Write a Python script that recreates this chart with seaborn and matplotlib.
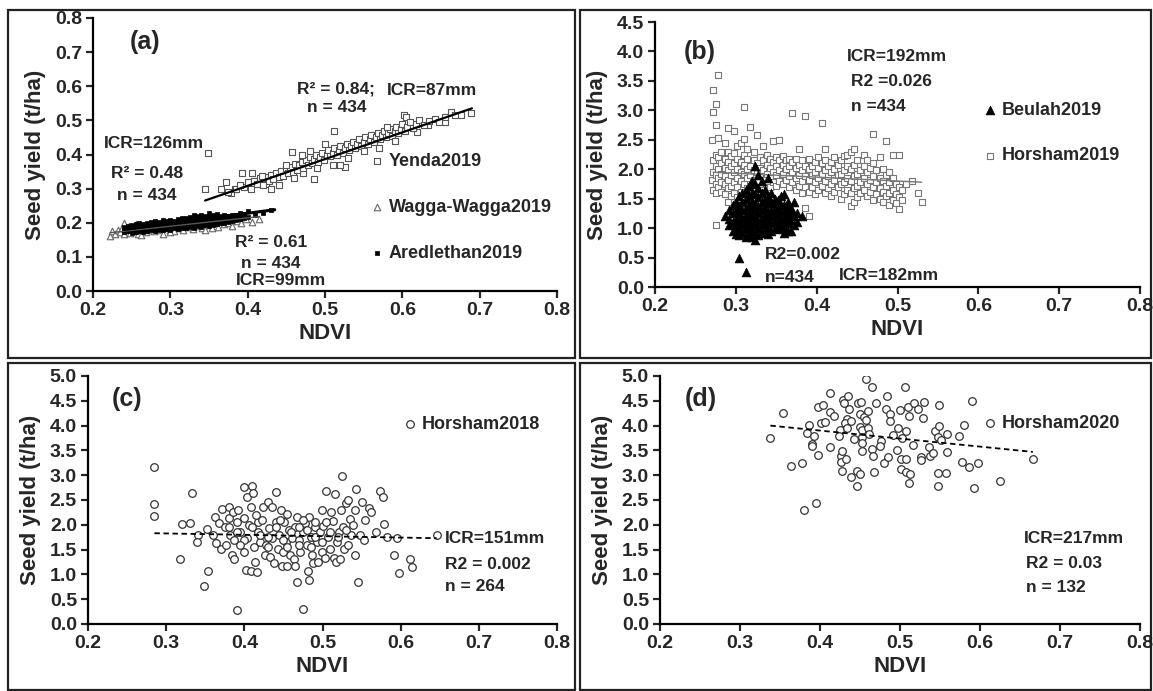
import numpy as np
import pandas as pd
import seaborn as sns
import matplotlib.pyplot as plt
from matplotlib.patches import Rectangle

# ---------------- data ----------------
# (a) Yenda2019 (open squares)
yenda_pts = [(0.349, 0.404), (0.345, 0.298), (0.393, 0.347), (0.372, 0.318), (0.379, 0.288),
             (0.383, 0.298), (0.512, 0.468), (0.602, 0.515), (0.605, 0.510), (0.655, 0.495),
             (0.663, 0.525), (0.689, 0.522), (0.676, 0.515), (0.619, 0.466), (0.633, 0.485),
             (0.526, 0.362), (0.486, 0.328), (0.471, 0.347), (0.457, 0.407), (0.414, 0.323),
             (0.424, 0.313), (0.395, 0.305), (0.400, 0.318), (0.404, 0.300), (0.408, 0.322),
             (0.412, 0.315), (0.416, 0.330), (0.420, 0.312), (0.423, 0.335), (0.427, 0.322),
             (0.430, 0.340), (0.433, 0.328), (0.436, 0.345), (0.440, 0.335), (0.443, 0.352),
             (0.446, 0.338), (0.449, 0.360), (0.452, 0.345), (0.455, 0.362), (0.458, 0.350),
             (0.461, 0.372), (0.464, 0.355), (0.467, 0.368), (0.470, 0.378), (0.472, 0.360),
             (0.475, 0.385), (0.478, 0.370), (0.480, 0.392), (0.483, 0.375), (0.486, 0.388),
             (0.488, 0.400), (0.491, 0.378), (0.494, 0.392), (0.496, 0.405), (0.499, 0.385),
             (0.502, 0.398), (0.504, 0.412), (0.507, 0.395), (0.510, 0.405), (0.512, 0.420),
             (0.515, 0.398), (0.518, 0.412), (0.520, 0.425), (0.523, 0.405), (0.526, 0.418),
             (0.528, 0.432), (0.531, 0.412), (0.534, 0.425), (0.536, 0.438), (0.539, 0.418),
             (0.542, 0.432), (0.544, 0.445), (0.547, 0.425), (0.550, 0.438), (0.552, 0.450),
             (0.555, 0.430), (0.558, 0.445), (0.560, 0.458), (0.563, 0.438), (0.566, 0.452),
             (0.568, 0.462), (0.571, 0.445), (0.574, 0.458), (0.576, 0.470), (0.579, 0.450),
             (0.582, 0.462), (0.584, 0.475), (0.587, 0.455), (0.590, 0.468), (0.592, 0.480),
             (0.595, 0.462), (0.598, 0.475), (0.600, 0.490), (0.603, 0.470), (0.606, 0.482),
             (0.610, 0.495), (0.614, 0.478), (0.618, 0.488), (0.622, 0.500), (0.628, 0.485),
             (0.635, 0.498), (0.642, 0.505), (0.648, 0.495), (0.655, 0.510), (0.668, 0.515),
             (0.405, 0.345), (0.440, 0.310), (0.460, 0.330), (0.470, 0.400), (0.480, 0.410),
             (0.500, 0.430), (0.520, 0.370), (0.530, 0.390), (0.550, 0.410), (0.570, 0.420),
             (0.580, 0.480), (0.590, 0.440), (0.510, 0.370), (0.490, 0.360), (0.450, 0.370),
             (0.430, 0.300), (0.418, 0.338), (0.385, 0.300), (0.390, 0.310), (0.365, 0.300),
             (0.375, 0.290)]

# (a) Wagga-Wagga2019 (open triangles)
wagga_pts = [(0.222, 0.160), (0.225, 0.175), (0.228, 0.168), (0.232, 0.180), (0.235, 0.172),
             (0.238, 0.185), (0.240, 0.168), (0.243, 0.178), (0.246, 0.190), (0.248, 0.170),
             (0.250, 0.182), (0.253, 0.175), (0.255, 0.195), (0.258, 0.168), (0.260, 0.185),
             (0.263, 0.178), (0.266, 0.190), (0.268, 0.172), (0.270, 0.185), (0.273, 0.180),
             (0.276, 0.195), (0.279, 0.175), (0.282, 0.188), (0.285, 0.178), (0.288, 0.192),
             (0.290, 0.168), (0.293, 0.185), (0.296, 0.198), (0.299, 0.180), (0.302, 0.192),
             (0.305, 0.175), (0.308, 0.200), (0.311, 0.185), (0.314, 0.195), (0.317, 0.180),
             (0.320, 0.202), (0.323, 0.188), (0.326, 0.198), (0.329, 0.182), (0.332, 0.205),
             (0.335, 0.190), (0.338, 0.200), (0.341, 0.185), (0.344, 0.208), (0.347, 0.192),
             (0.350, 0.202), (0.354, 0.185), (0.358, 0.198), (0.362, 0.188), (0.366, 0.205),
             (0.370, 0.195), (0.375, 0.200), (0.380, 0.190), (0.386, 0.205), (0.392, 0.198),
             (0.398, 0.210), (0.405, 0.202), (0.415, 0.212), (0.240, 0.200), (0.262, 0.165),
             (0.300, 0.172), (0.345, 0.178)]

# (a) Aredlethan2019 (small filled squares), NDVI column -> yields
aredlethan_cols = [(0.240, [0.172, 0.180, 0.188]), (0.245, [0.175, 0.183, 0.190]),
                   (0.250, [0.170, 0.178, 0.186, 0.194]), (0.255, [0.174, 0.181, 0.189, 0.196]),
                   (0.260, [0.176, 0.184, 0.191, 0.198]), (0.265, [0.173, 0.180, 0.187, 0.195]),
                   (0.270, [0.177, 0.185, 0.192, 0.200]), (0.275, [0.179, 0.186, 0.193, 0.201]),
                   (0.280, [0.176, 0.183, 0.190, 0.198, 0.205]), (0.285, [0.180, 0.187, 0.194, 0.202]),
                   (0.290, [0.178, 0.185, 0.192, 0.199, 0.207]), (0.295, [0.182, 0.189, 0.196, 0.204]),
                   (0.300, [0.180, 0.187, 0.194, 0.201, 0.209]), (0.305, [0.184, 0.191, 0.198, 0.206]),
                   (0.310, [0.182, 0.189, 0.196, 0.203, 0.211]), (0.315, [0.186, 0.193, 0.200, 0.208, 0.215]),
                   (0.320, [0.184, 0.191, 0.198, 0.205, 0.213]), (0.325, [0.188, 0.195, 0.202, 0.210, 0.217]),
                   (0.330, [0.186, 0.193, 0.200, 0.207, 0.215, 0.222]), (0.335, [0.190, 0.197, 0.204, 0.212, 0.219]),
                   (0.340, [0.188, 0.195, 0.202, 0.209, 0.217, 0.224]), (0.345, [0.192, 0.199, 0.206, 0.214, 0.221]),
                   (0.350, [0.190, 0.197, 0.204, 0.211, 0.219, 0.228]), (0.355, [0.194, 0.201, 0.208, 0.216, 0.223]),
                   (0.360, [0.196, 0.203, 0.210, 0.218, 0.226]), (0.365, [0.198, 0.206, 0.213, 0.221]),
                   (0.370, [0.200, 0.208, 0.216, 0.224]), (0.375, [0.203, 0.211, 0.219]),
                   (0.380, [0.205, 0.213, 0.222]), (0.385, [0.208, 0.216, 0.224]),
                   (0.390, [0.212, 0.220, 0.230]), (0.395, [0.215, 0.225]),
                   (0.400, [0.218, 0.235]), (0.410, [0.222]), (0.420, [0.228]), (0.430, [0.236])]

# (b) Beulah2019 (filled triangles)
beulah_cols = [(0.287, [1.20]), (0.292, [1.05, 1.15, 1.30]), (0.296, [0.95, 1.10, 1.25, 1.40]),
               (0.300, [0.90, 1.02, 1.15, 1.28, 1.45]), (0.304, [0.50, 0.88, 1.00, 1.12, 1.25, 1.38, 1.55]),
               (0.308, [0.92, 1.05, 1.18, 1.30, 1.45, 1.60]),
               (0.312, [0.25, 0.85, 0.98, 1.10, 1.22, 1.35, 1.50, 1.65]),
               (0.316, [0.90, 1.02, 1.15, 1.28, 1.40, 1.55, 1.72]),
               (0.320, [0.85, 0.95, 1.08, 1.20, 1.32, 1.45, 1.60, 1.80]),
               (0.324, [0.80, 0.92, 1.05, 1.18, 1.30, 1.42, 1.58, 1.75, 2.05]),
               (0.328, [0.88, 1.00, 1.12, 1.25, 1.38, 1.52, 1.68, 1.90]),
               (0.332, [0.92, 1.05, 1.18, 1.30, 1.45, 1.60, 1.80]),
               (0.336, [0.95, 1.08, 1.20, 1.35, 1.50, 1.65]),
               (0.340, [0.90, 1.02, 1.15, 1.28, 1.42, 1.55, 1.85]),
               (0.344, [0.95, 1.08, 1.20, 1.32, 1.45, 1.60]), (0.348, [1.00, 1.12, 1.25, 1.38, 1.50]),
               (0.352, [0.98, 1.10, 1.22, 1.35, 1.48]), (0.356, [1.05, 1.15, 1.28, 1.40, 1.55]),
               (0.360, [0.92, 1.02, 1.15, 1.28, 1.40, 1.58]), (0.364, [0.95, 1.08, 1.20, 1.32, 1.45]),
               (0.368, [0.95, 1.10, 1.25, 1.35]), (0.372, [1.05, 1.20, 1.45]),
               (0.376, [1.10, 1.25]), (0.382, [1.20])]

# (b) Horsham2019 (open squares)
horsham19_cols = [(0.270, [1.82, 2.50]), (0.272, [1.65, 1.95, 2.15, 2.98, 3.35]),
                  (0.275, [1.05, 1.60, 1.75, 1.90, 2.05, 2.25, 2.75, 3.11]),
                  (0.278, [1.70, 1.85, 2.00, 2.20, 2.53, 3.60]), (0.282, [1.62, 1.78, 1.92, 2.10, 2.30]),
                  (0.286, [1.58, 1.75, 1.88, 2.02, 2.18, 2.45]),
                  (0.290, [1.45, 1.68, 1.82, 1.98, 2.12, 2.30, 2.70]), (0.294, [1.55, 1.72, 1.90, 2.05, 2.22]),
                  (0.298, [1.60, 1.78, 1.95, 2.10, 2.28, 2.65]), (0.302, [1.52, 1.70, 1.85, 2.00, 2.18, 2.40]),
                  (0.306, [1.62, 1.80, 1.95, 2.12, 2.45]), (0.310, [1.58, 1.75, 1.92, 2.08, 2.25, 2.52, 3.05]),
                  (0.314, [1.68, 1.85, 2.00, 2.18, 2.35]), (0.318, [1.55, 1.72, 1.90, 2.05, 2.72]),
                  (0.322, [1.65, 1.82, 1.98, 2.15, 2.30]), (0.326, [1.60, 1.78, 1.95, 2.10, 2.58]),
                  (0.330, [1.70, 1.88, 2.02, 2.20]), (0.334, [1.65, 1.82, 1.98, 2.15, 2.40]),
                  (0.338, [1.75, 1.92, 2.08, 2.25]), (0.342, [1.70, 1.85, 2.02, 2.18]),
                  (0.346, [1.78, 1.95, 2.12, 2.48]), (0.350, [1.72, 1.90, 2.05, 2.20]),
                  (0.354, [1.80, 1.98, 2.15, 2.49]), (0.358, [1.75, 1.92, 2.08, 2.22]),
                  (0.362, [1.82, 2.00, 2.15]), (0.366, [1.70, 1.88, 2.05, 2.18]),
                  (0.370, [1.78, 1.95, 2.12, 2.95]), (0.374, [1.65, 1.85, 2.02, 2.18]),
                  (0.378, [1.72, 1.90, 2.08, 2.35]), (0.382, [1.60, 1.80, 1.98, 2.15]),
                  (0.386, [1.35, 1.70, 1.88, 2.05, 2.90]), (0.390, [1.20, 1.62, 1.82, 2.00, 2.18]),
                  (0.394, [1.70, 1.90, 2.05]), (0.398, [1.58, 1.78, 1.95, 2.12]),
                  (0.402, [1.65, 1.85, 2.02, 2.20]), (0.406, [1.72, 1.92, 2.10, 2.78]),
                  (0.410, [1.60, 1.80, 1.98, 2.15, 2.35]), (0.414, [1.68, 1.88, 2.05]),
                  (0.418, [1.55, 1.75, 1.95, 2.12]), (0.422, [1.62, 1.82, 2.00, 2.20]),
                  (0.426, [1.70, 1.90, 2.08]), (0.430, [1.50, 1.75, 1.92, 2.15]),
                  (0.434, [1.58, 1.78, 1.98, 2.22]), (0.438, [1.65, 1.85, 2.05, 2.25]),
                  (0.442, [1.38, 1.60, 1.80, 2.00, 2.30]), (0.446, [1.45, 1.68, 1.88, 2.08, 2.35]),
                  (0.450, [1.52, 1.72, 1.92, 2.15]), (0.454, [1.60, 1.78, 1.98]),
                  (0.458, [1.65, 1.85, 2.05, 2.25]), (0.462, [1.55, 1.75, 1.95, 2.15]),
                  (0.466, [1.62, 1.82, 2.02]), (0.470, [1.48, 1.70, 1.88, 2.10, 2.60]),
                  (0.474, [1.58, 1.78, 1.98]), (0.478, [1.50, 1.68, 1.85, 2.20]),
                  (0.482, [1.45, 1.62, 1.80, 2.00]), (0.486, [1.55, 1.72, 1.90, 2.48]),
                  (0.490, [1.40, 1.60, 1.78, 1.95]), (0.494, [1.48, 1.65, 1.85, 2.25]),
                  (0.498, [1.42, 1.58, 1.75]), (0.502, [1.32, 1.52, 1.70, 2.25]),
                  (0.506, [1.48, 1.65]), (0.510, [1.75]), (0.518, [1.80]),
                  (0.525, [1.60]), (0.530, [1.45])]

# (c) Horsham2018 (open circles)
horsham18_pts = [(0.285, 3.17), (0.285, 2.41), (0.285, 2.17), (0.320, 2.01), (0.331, 2.04),
                 (0.318, 1.31), (0.333, 2.65), (0.341, 1.80), (0.340, 1.65), (0.348, 0.76),
                 (0.354, 1.07), (0.352, 1.91), (0.360, 1.79), (0.363, 2.15), (0.367, 2.03),
                 (0.364, 1.64), (0.370, 1.52), (0.372, 2.31), (0.375, 1.95), (0.380, 2.36),
                 (0.376, 1.59), (0.380, 2.14), (0.382, 1.79), (0.384, 1.40), (0.386, 2.26),
                 (0.387, 1.69), (0.387, 1.31), (0.390, 0.29), (0.390, 2.06), (0.392, 2.29),
                 (0.395, 1.86), (0.399, 2.76), (0.399, 1.46), (0.400, 2.13), (0.402, 1.09),
                 (0.403, 2.56), (0.404, 1.74), (0.406, 1.99), (0.408, 2.36), (0.409, 1.06),
                 (0.410, 2.79), (0.411, 2.65), (0.412, 1.56), (0.414, 1.26), (0.416, 1.04),
                 (0.417, 2.06), (0.418, 1.86), (0.420, 1.66), (0.422, 2.09), (0.424, 2.36),
                 (0.426, 1.40), (0.428, 1.59), (0.430, 2.46), (0.431, 1.93), (0.433, 1.36),
                 (0.435, 2.36), (0.436, 1.74), (0.438, 1.22), (0.440, 2.66), (0.440, 2.05),
                 (0.443, 1.52), (0.444, 1.79), (0.447, 2.29), (0.448, 1.16), (0.451, 2.06),
                 (0.453, 1.66), (0.454, 1.16), (0.455, 2.21), (0.457, 1.89), (0.459, 1.39),
                 (0.461, 1.74), (0.463, 1.32), (0.465, 1.16), (0.465, 1.96), (0.467, 2.16),
                 (0.468, 0.84), (0.470, 1.70), (0.471, 1.46), (0.475, 0.31), (0.475, 1.86),
                 (0.478, 2.03), (0.480, 1.59), (0.481, 1.06), (0.483, 0.89), (0.483, 2.16),
                 (0.485, 1.76), (0.487, 1.40), (0.488, 1.22), (0.490, 1.96), (0.493, 1.66),
                 (0.494, 1.24), (0.497, 1.86), (0.499, 1.46), (0.500, 2.29), (0.501, 1.98),
                 (0.503, 1.34), (0.505, 2.69), (0.507, 1.76), (0.509, 1.52), (0.511, 2.26),
                 (0.513, 2.07), (0.515, 1.34), (0.516, 2.63), (0.517, 1.24), (0.518, 1.66),
                 (0.521, 1.86), (0.522, 1.31), (0.524, 2.29), (0.525, 2.99), (0.526, 1.96),
                 (0.528, 1.51), (0.530, 2.43), (0.532, 2.51), (0.533, 1.59), (0.535, 2.11),
                 (0.537, 1.80), (0.539, 1.99), (0.541, 2.29), (0.542, 1.40), (0.543, 2.73),
                 (0.546, 0.84), (0.548, 1.79), (0.551, 2.46), (0.553, 1.69), (0.555, 2.09),
                 (0.560, 2.33), (0.562, 2.26), (0.569, 1.86), (0.574, 2.69), (0.578, 2.56),
                 (0.579, 2.01), (0.582, 1.76), (0.591, 1.40), (0.595, 1.74), (0.598, 1.02),
                 (0.612, 1.32), (0.615, 1.15), (0.646, 1.79), (0.440, 1.95), (0.460, 1.85),
                 (0.430, 1.75), (0.450, 1.70), (0.420, 1.80), (0.470, 1.95), (0.490, 1.75),
                 (0.500, 1.65), (0.510, 1.85), (0.520, 1.75), (0.480, 1.90), (0.410, 1.95),
                 (0.400, 1.70), (0.390, 1.85), (0.380, 1.95), (0.470, 1.60), (0.450, 1.45),
                 (0.430, 1.55), (0.490, 2.05), (0.530, 1.90), (0.395, 1.60), (0.415, 2.20),
                 (0.445, 2.10), (0.475, 2.10), (0.505, 2.05), (0.455, 1.55), (0.485, 1.55)]

# (d) Horsham2020 (open circles)
horsham20_pts = [(0.338, 3.75), (0.354, 4.26), (0.364, 3.18), (0.378, 3.24), (0.380, 2.30),
                 (0.395, 2.43), (0.398, 3.40), (0.386, 4.01), (0.384, 3.85), (0.393, 3.80),
                 (0.390, 3.63), (0.390, 3.58), (0.397, 4.38), (0.401, 4.06), (0.404, 4.42),
                 (0.406, 4.08), (0.412, 4.66), (0.413, 4.28), (0.417, 4.19), (0.413, 3.57),
                 (0.425, 3.92), (0.424, 3.79), (0.426, 3.39), (0.428, 3.48), (0.428, 3.09),
                 (0.426, 3.27), (0.429, 4.52), (0.430, 4.46), (0.435, 4.59), (0.436, 4.34),
                 (0.434, 4.13), (0.431, 4.05), (0.434, 3.96), (0.439, 4.09), (0.433, 3.32),
                 (0.439, 2.96), (0.443, 3.73), (0.446, 3.08), (0.446, 2.79), (0.450, 3.03),
                 (0.448, 4.46), (0.451, 4.48), (0.450, 4.24), (0.450, 3.98), (0.452, 3.91),
                 (0.453, 3.77), (0.453, 3.65), (0.452, 3.49), (0.455, 4.18), (0.458, 4.93),
                 (0.460, 4.30), (0.460, 3.95), (0.461, 3.84), (0.458, 4.12), (0.465, 4.78),
                 (0.465, 3.53), (0.466, 3.38), (0.467, 3.06), (0.470, 4.45), (0.476, 3.69),
                 (0.475, 3.59), (0.480, 3.24), (0.482, 4.33), (0.484, 4.60), (0.485, 3.36),
                 (0.488, 4.24), (0.488, 4.10), (0.491, 3.82), (0.496, 3.51), (0.497, 3.96),
                 (0.500, 4.32), (0.501, 3.32), (0.501, 3.13), (0.502, 3.76), (0.506, 4.78),
                 (0.507, 3.90), (0.508, 3.32), (0.508, 3.06), (0.510, 4.37), (0.511, 4.20),
                 (0.511, 2.85), (0.513, 3.03), (0.516, 3.60), (0.518, 4.45), (0.522, 4.34),
                 (0.526, 3.36), (0.526, 3.31), (0.529, 4.15), (0.530, 4.47), (0.536, 3.57),
                 (0.537, 3.38), (0.541, 3.44), (0.544, 3.90), (0.547, 3.77), (0.547, 3.05),
                 (0.548, 2.79), (0.549, 3.99), (0.549, 4.42), (0.551, 3.70), (0.558, 3.05),
                 (0.559, 3.84), (0.559, 3.46), (0.574, 3.79), (0.577, 3.26), (0.580, 4.01),
                 (0.586, 3.16), (0.590, 4.50), (0.593, 2.75), (0.597, 3.24), (0.625, 2.88),
                 (0.666, 3.32)]

# trend lines: (slope, intercept, x start, x end)
trend_yenda = (0.783, -0.005, 0.345, 0.690)
trend_wagga = (0.246, 0.116, 0.222, 0.415)
trend_aredlethan = (0.297, 0.109, 0.240, 0.435)
trend_horsham19 = (-0.659, 2.129, 0.272, 0.530)
trend_horsham18 = (-0.277, 1.909, 0.285, 0.646)
trend_horsham20 = (-1.616, 4.546, 0.338, 0.666)


def pts_df(pts):
    return pd.DataFrame(pts, columns=["NDVI", "yield"])


def cols_df(cols):
    rows = [(x, y) for x, ys in cols for y in ys]
    return pd.DataFrame(rows, columns=["NDVI", "yield"])


def trend(ax, t, **kw):
    k, b, x0, x1 = t
    xs = np.array([x0, x1])
    ax.plot(xs, k * xs + b, **kw)


# ---------------- style ----------------
sns.set_style("white")
plt.rcParams["font.family"] = ["Liberation Sans", "DejaVu Sans"]
plt.rcParams["font.weight"] = "bold"
plt.rcParams["axes.labelweight"] = "bold"

W, H = 1153, 691
fig = plt.figure(figsize=(W / 100, H / 100), dpi=100)


def px_axes(l, t, r, b):
    return fig.add_axes([l / W, 1 - b / H, (r - l) / W, (b - t) / H])


def style(ax, ymax, ystep):
    ax.set_xlim(0.2, 0.8)
    ax.set_ylim(0, ymax)
    ax.set_xticks(np.arange(0.2, 0.81, 0.1))
    ax.set_yticks(np.arange(0, ymax + 1e-9, ystep))
    ax.xaxis.set_major_formatter(plt.FormatStrFormatter("%.1f"))
    ax.yaxis.set_major_formatter(plt.FormatStrFormatter("%.1f"))
    for s in ["top", "right"]:
        ax.spines[s].set_visible(False)
    for s in ["left", "bottom"]:
        ax.spines[s].set_linewidth(1.6)
        ax.spines[s].set_color("black")
    ax.tick_params(direction="out", length=5, width=1.6, labelsize=14, pad=3,
                   left=True, bottom=True)
    for lab in ax.get_xticklabels() + ax.get_yticklabels():
        lab.set_fontweight("bold")
    ax.set_xlabel("NDVI", fontsize=16, fontweight="bold", labelpad=3)
    ax.set_ylabel("Seed yield (t/ha)", fontsize=16, fontweight="bold", labelpad=6)


def legend(ax, x, y, spacing=1.5):
    ax.legend(loc="upper left", bbox_to_anchor=(x, y), frameon=False,
              handlelength=0.6, handletextpad=0.35, labelspacing=spacing,
              borderpad=0, borderaxespad=0, prop={"weight": "bold", "size": 13})


txt = dict(fontsize=12.5, fontweight="bold", va="center", ha="left")

# ---------------- (a) ----------------
ax = px_axes(93, 18, 557, 291)
sns.scatterplot(data=pts_df(yenda_pts), x="NDVI", y="yield", ax=ax, marker="s", s=14,
                color="white", edgecolor="#555555", linewidth=0.8, label="Yenda2019")
sns.scatterplot(data=pts_df(wagga_pts), x="NDVI", y="yield", ax=ax, marker="^", s=22,
                color="white", edgecolor="#666666", linewidth=0.8, label="Wagga-Wagga2019")
sns.scatterplot(data=cols_df(aredlethan_cols), x="NDVI", y="yield", ax=ax, marker="s", s=12,
                color="black", edgecolor="black", linewidth=0.5, label="Aredlethan2019")
trend(ax, trend_yenda, color="black", lw=1.6)
trend(ax, trend_wagga, color="#555555", lw=1.0)
trend(ax, trend_aredlethan, color="black", lw=2.2)
style(ax, 0.8, 0.1)
legend(ax, 0.600, 0.505, 1.6)
ax.text(0.267, 0.731, "(a)", fontsize=18, fontweight="bold", ha="center", va="center")
ax.text(0.464, 0.593, "R² = 0.84;", **txt)
ax.text(0.580, 0.588, "ICR=87mm", **txt)
ax.text(0.477, 0.537, "n = 434", **txt)
ax.text(0.214, 0.431, "ICR=126mm", **txt)
ax.text(0.223, 0.343, "R² = 0.48", **txt)
ax.text(0.231, 0.281, "n = 434", **txt)
ax.text(0.384, 0.143, "R² = 0.61", **txt)
ax.text(0.391, 0.082, "n = 434", **txt)
ax.text(0.385, 0.032, "ICR=99mm", **txt)

# ---------------- (b) ----------------
ax = px_axes(655, 22, 1140, 287)
sns.scatterplot(data=cols_df(beulah_cols), x="NDVI", y="yield", ax=ax, marker="^", s=40,
                color="black", edgecolor="black", linewidth=0.5, label="Beulah2019", zorder=3)
sns.scatterplot(data=cols_df(horsham19_cols), x="NDVI", y="yield", ax=ax, marker="s", s=14,
                color="white", edgecolor="#777777", linewidth=0.8, label="Horsham2019", zorder=2)
trend(ax, trend_horsham19, color="#777777", lw=1.0, zorder=2.5)
style(ax, 4.5, 0.5)
legend(ax, 0.680, 0.700, 1.6)
ax.text(0.255, 3.99, "(b)", fontsize=18, fontweight="bold", ha="center", va="center")
ax.text(0.437, 3.92, "ICR=192mm", **txt)
ax.text(0.443, 3.49, "R2 =0.026", **txt)
ax.text(0.443, 3.07, "n =434", **txt)
ax.text(0.336, 0.56, "R2=0.002", **txt)
ax.text(0.336, 0.16, "n=434", **txt)
ax.text(0.427, 0.19, "ICR=182mm", **txt)

# ---------------- (c) ----------------
ax = px_axes(88, 376, 557, 624)
sns.scatterplot(data=pts_df(horsham18_pts), x="NDVI", y="yield", ax=ax, marker="o", s=30,
                color="white", edgecolor="#333333", linewidth=0.9, label="Horsham2018")
trend(ax, trend_horsham18, color="black", lw=1.3, ls=(0, (3, 2)))
style(ax, 5.0, 0.5)
legend(ax, 0.675, 0.838)
ax.text(0.250, 4.53, "(c)", fontsize=18, fontweight="bold", ha="center", va="center")
ax.text(0.657, 1.72, "ICR=151mm", **txt)
ax.text(0.657, 1.20, "R2 = 0.002", **txt)
ax.text(0.657, 0.755, "n = 264", **txt)

# ---------------- (d) ----------------
ax = px_axes(660, 376, 1140, 624)
sns.scatterplot(data=pts_df(horsham20_pts), x="NDVI", y="yield", ax=ax, marker="o", s=30,
                color="white", edgecolor="#333333", linewidth=0.9, label="Horsham2020")
trend(ax, trend_horsham20, color="black", lw=1.3, ls=(0, (3, 2)))
style(ax, 5.0, 0.5)
legend(ax, 0.677, 0.842)
ax.text(0.251, 4.53, "(d)", fontsize=18, fontweight="bold", ha="center", va="center")
ax.text(0.655, 1.73, "ICR=217mm", **txt)
ax.text(0.658, 1.21, "R2 = 0.03", **txt)
ax.text(0.658, 0.74, "n = 132", **txt)

# ---------------- panel frames ----------------
for l, t, r, b in [(8, 10, 575, 358), (580, 10, 1151, 358),
                   (8, 363, 575, 690), (580, 363, 1151, 690)]:
    fig.add_artist(Rectangle((l / W, 1 - b / H), (r - l) / W, (b - t) / H,
                             transform=fig.transFigure, fill=False, lw=1.6, ec="#222222"))

fig.savefig("out.png", dpi=100)
